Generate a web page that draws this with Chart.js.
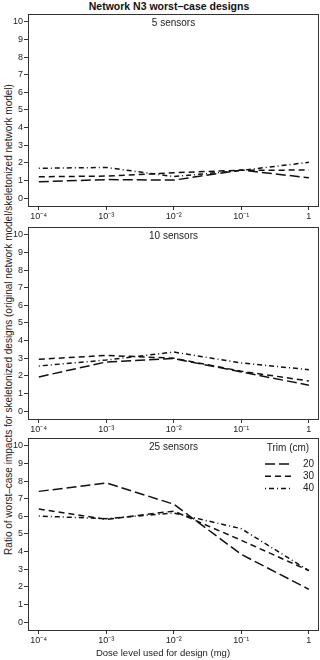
<!DOCTYPE html>
<html>
<head>
<meta charset="utf-8">
<script src="https://cdn.jsdelivr.net/npm/chart.js@4"></script>
<style>
  body { margin: 0; background: #fff; font-family: "Liberation Sans", Arial, sans-serif; }
  #page { position: relative; width: 320px; height: 660px; overflow: hidden; }
  canvas { position: absolute; left: 0; }
  .title { position: absolute; top: 0; left: 0; width: 338px; text-align: center; font-weight: bold; font-size: 10.5px; color: #111; }
  .ytitle { position: absolute; left: -292px; top: 314px; width: 600px; text-align: center; font-size: 10px; color: #222; transform: rotate(-90deg); }
  .xtitle { position: absolute; left: 0; top: 647px; width: 326px; text-align: center; font-size: 9.5px; color: #222; }
</style>
</head>
<body>
<div id="page">
  <div class="title">Network N3 worst&#8211;case designs</div>
  <div class="ytitle">Ratio of worst&#8211;case impacts for skeletonized designs (original network model/skeletonized network model)</div>
  <canvas id="panel5" width="320" height="227" style="top:0px"></canvas>
  <canvas id="panel10" width="320" height="227" style="top:213px"></canvas>
  <canvas id="panel25" width="320" height="227" style="top:424px"></canvas>
  <div class="xtitle">Dose level used for design (mg)</div>
</div>
<script>
// dose levels (mg) and their tick labels
const doses = [1e-4, 1e-3, 1e-2, 1e-1, 1];
const doseLabels = ['10\u207B\u2074', '10\u207B\u00B3', '10\u207B\u00B2', '10\u207B\u00B9', '1'];
const yTicks = [0, 1, 2, 3, 4, 5, 6, 7, 8, 9, 10];
const trimLabels = ['20', '30', '40'];

// 5 sensors
const s5Trim20 = [0.93, 1.05, 1.02, 1.59, 1.15];
const s5Trim30 = [1.21, 1.25, 1.44, 1.58, 1.59];
const s5Trim40 = [1.69, 1.74, 1.22, 1.57, 2.03];

// 10 sensors
const s10Trim20 = [1.94, 2.79, 2.98, 2.22, 1.47];
const s10Trim30 = [2.94, 3.16, 3.0, 2.26, 1.71];
const s10Trim40 = [2.56, 2.9, 3.35, 2.73, 2.35];

// 25 sensors
const s25Trim20 = [7.42, 7.9, 6.69, 3.84, 1.86];
const s25Trim30 = [6.42, 5.83, 6.3, 4.64, 2.92];
const s25Trim40 = [6.02, 5.87, 6.19, 5.3, 2.92];

const dashes = [[10, 4], [6, 4], [1, 3, 5, 3]];
const ink = '#222';

// box around the plot region, R style
const frame = {
  id: 'frame',
  afterDraw(chart) {
    const { ctx, chartArea: a } = chart;
    ctx.save();
    ctx.strokeStyle = '#333';
    ctx.lineWidth = 1;
    ctx.strokeRect(Math.round(a.left) + 0.5, Math.round(a.top) + 0.5,
      Math.round(a.right - a.left) - 1, Math.round(a.bottom - a.top));
    ctx.restore();
  }
};

// "N sensors" text at the top of each panel
const panelLabel = {
  id: 'panelLabel',
  afterDraw(chart, args, opts) {
    const { ctx, chartArea: a } = chart;
    ctx.save();
    ctx.font = '10px "Liberation Sans", Arial, sans-serif';
    ctx.fillStyle = ink;
    ctx.textAlign = 'center';
    ctx.textBaseline = 'middle';
    ctx.fillText(opts.text, (a.left + a.right) / 2, a.top + 9);
    ctx.restore();
  }
};

// Trim legend: dash sample on the left, value right aligned
const trimLegend = {
  id: 'trimLegend',
  afterDraw(chart, args, opts) {
    if (!opts.show) return;
    const { ctx, chartArea: a } = chart;
    ctx.save();
    ctx.font = '10px "Liberation Sans", Arial, sans-serif';
    ctx.fillStyle = ink;
    ctx.textBaseline = 'middle';
    ctx.textAlign = 'center';
    ctx.fillText('Trim (cm)', a.right - 31, a.top + 10);
    chart.data.datasets.forEach((ds, i) => {
      const y = a.top + 26 + i * 12.3;
      ctx.strokeStyle = ds.borderColor;
      ctx.lineWidth = ds.borderWidth;
      ctx.setLineDash(ds.borderDash);
      ctx.beginPath();
      ctx.moveTo(a.right - 54, y);
      ctx.lineTo(a.right - 26, y);
      ctx.stroke();
      ctx.setLineDash([]);
      ctx.textAlign = 'right';
      ctx.fillText(ds.label, a.right - 5, y);
    });
    ctx.restore();
  }
};

function points(values) {
  return doses.map((d, i) => ({ x: d, y: values[i] }));
}

function makePanel(id, label, series, showLegend) {
  new Chart(document.getElementById(id), {
    type: 'line',
    data: {
      datasets: series.map((vals, i) => ({
        label: trimLabels[i],
        data: points(vals),
        borderColor: '#111',
        borderWidth: 1.5,
        borderDash: dashes[i],
        pointRadius: 0,
        tension: 0,
        fill: false
      }))
    },
    options: {
      responsive: false,
      animation: false,
      devicePixelRatio: 1,
      layout: { padding: { left: 0, right: 1, top: 14, bottom: 0 } },
      plugins: {
        legend: { display: false },
        tooltip: { enabled: false },
        panelLabel: { text: label },
        trimLegend: { show: showLegend }
      },
      scales: {
        x: {
          type: 'logarithmic',
          min: Math.pow(10, -4.16),
          max: Math.pow(10, 0.15),
          afterBuildTicks: (scale) => { scale.ticks = doses.map(v => ({ value: v })); },
          afterFit: (scale) => { scale.height = 21; },
          border: { display: false },
          grid: { drawOnChartArea: false, drawTicks: true, tickLength: 4, color: '#333' },
          ticks: {
            autoSkip: false,
            maxRotation: 0,
            padding: 1,
            color: ink,
            font: { family: '"Liberation Sans", Arial, sans-serif', size: 9 },
            callback: (v) => doseLabels[doses.indexOf(v)]
          }
        },
        y: {
          min: -0.45,
          max: 10.45,
          afterBuildTicks: (scale) => { scale.ticks = yTicks.map(v => ({ value: v })); },
          afterFit: (scale) => { scale.width = 28; },
          border: { display: false },
          grid: { drawOnChartArea: false, drawTicks: true, tickLength: 4, color: '#333' },
          ticks: {
            padding: 1,
            color: ink,
            font: { family: '"Liberation Sans", Arial, sans-serif', size: 9 }
          }
        }
      }
    },
    plugins: [frame, panelLabel, trimLegend]
  });
}

makePanel('panel5', '5 sensors', [s5Trim20, s5Trim30, s5Trim40], false);
makePanel('panel10', '10 sensors', [s10Trim20, s10Trim30, s10Trim40], false);
makePanel('panel25', '25 sensors', [s25Trim20, s25Trim30, s25Trim40], true);
</script>
</body>
</html>
